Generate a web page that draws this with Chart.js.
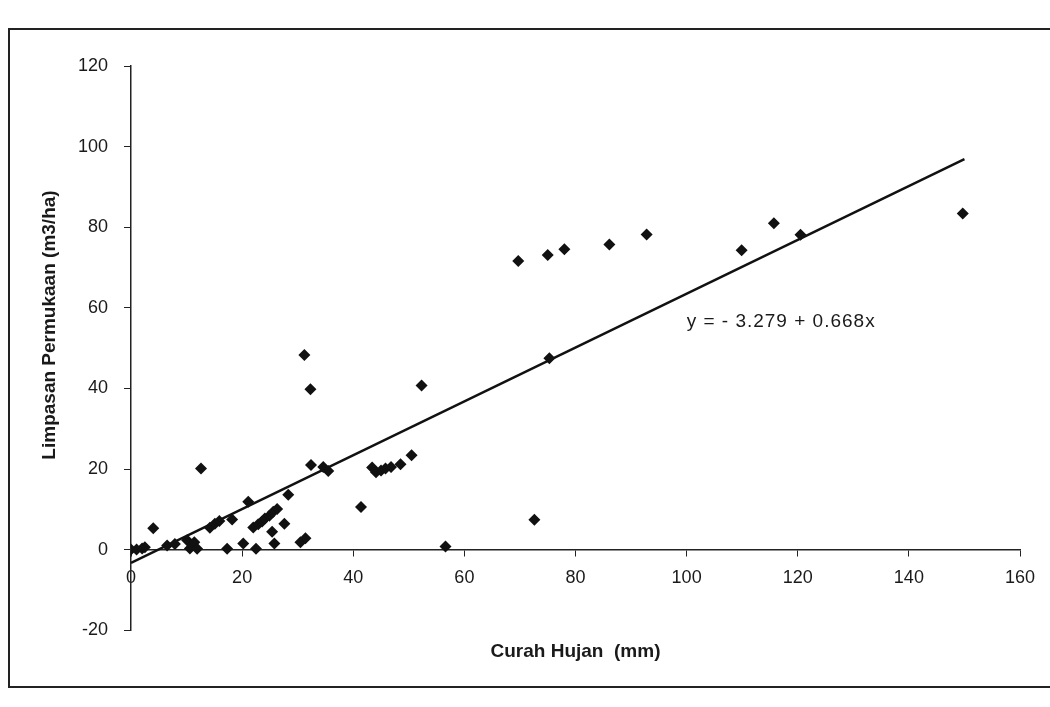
<!DOCTYPE html>
<html lang="id">
<head>
  <meta charset="UTF-8" />
  <title>Curah Hujan vs Limpasan Permukaan</title>
  <script src="https://cdn.jsdelivr.net/npm/chart.js"></script>
  <style>
    body {
      margin: 0;
      background: #ffffff;
      width: 1050px;
      height: 707px;
      overflow: hidden;
      position: relative;
      font-family: 'Liberation Sans', Arial, sans-serif;
    }
    .frame {
      position: absolute;
      left: 8px;
      top: 28px;
      width: 1100px;
      height: 660px;
      border: 2px solid #222;
      box-sizing: border-box;
    }
    #chart {
      position: absolute;
      left: 0;
      top: 0;
    }
  </style>
</head>
<body>
  <div class="frame"></div>
  <canvas id="chart" width="1050" height="707"></canvas>

  <script>
    // Curah hujan (mm) dan limpasan permukaan (m3/ha)
    const curahHujan = [
      0, 1, 2, 2.5, 4, 6.5, 7.9, 10.1, 10.6, 11.4, 11.9, 12.6, 14.2, 15.1, 15.9,
      17.3, 18.2, 20.2, 21.1, 22, 22.5, 22.9, 23.6, 24.1, 24.9, 25.6, 26.3, 25.4,
      25.8, 27.6, 28.3, 30.5, 31.4, 31.2, 32.3, 32.4, 34.6, 35.5, 41.4, 43.4, 44.1,
      45, 45.8, 46.8, 48.5, 50.5, 52.3, 56.6, 69.7, 72.6, 75, 78, 86.1, 92.8, 75.3,
      109.9, 115.7, 120.5, 149.7
    ];
    const limpasan = [
      0, 0, 0.3, 0.6, 5.3, 1, 1.4, 2.3, 0.3, 1.8, 0.2, 20.1, 5.4, 6.4, 7.1,
      0.2, 7.5, 1.5, 11.9, 5.5, 0.2, 6.3, 7, 7.7, 8.4, 9.4, 10.1, 4.4,
      1.5, 6.4, 13.6, 1.8, 2.8, 48.3, 39.8, 21, 20.5, 19.5, 10.6, 20.4, 19.2,
      19.6, 20.1, 20.5, 21.2, 23.4, 40.7, 0.8, 71.6, 7.4, 73.1, 74.5, 75.7, 78.2, 47.5,
      74.3, 81, 78.1, 83.4
    ];

    // ujung garis regresi y = -3.279 + 0.668x
    const garisX = [0, 150];
    const garisY = [-3.3, 96.9];
    const persamaan = 'y = - 3.279 + 0.668x';

    const xTicks = [0, 20, 40, 60, 80, 100, 120, 140, 160];
    const yTicks = [-20, 0, 20, 40, 60, 80, 100, 120];

    const titikData = curahHujan.map((x, i) => ({ x: x, y: limpasan[i] }));
    const garisData = garisX.map((x, i) => ({ x: x, y: garisY[i] }));

    // teks persamaan + judul sumbu Y
    const teksPlugin = {
      id: 'teks',
      afterDraw(chart) {
        const c = chart.ctx;
        const xs = chart.scales.x, ys = chart.scales.y;
        c.save();
        c.fillStyle = '#1a1a1a';
        c.font = '19px "Liberation Sans", Arial, sans-serif';
        c.letterSpacing = '1px';
        c.textAlign = 'left';
        c.textBaseline = 'middle';
        c.fillText(persamaan, xs.getPixelForValue(100), ys.getPixelForValue(56.5));
        c.letterSpacing = '0px';

        c.translate(50, 325);
        c.rotate(-Math.PI / 2);
        c.textAlign = 'center';
        c.font = 'bold 19px "Liberation Sans", Arial, sans-serif';
        c.fillText('Limpasan Permukaan (m3/ha)', 0, 0);
        c.restore();
      }
    };

    const ctx = document.getElementById('chart').getContext('2d');
    new Chart(ctx, {
      type: 'scatter',
      data: {
        datasets: [
          {
            label: 'Data',
            data: titikData,
            pointStyle: 'rectRot',
            pointRadius: 6,
            pointBackgroundColor: '#111',
            pointBorderColor: '#111',
            borderWidth: 0
          },
          {
            label: 'Regresi',
            type: 'line',
            data: garisData,
            borderColor: '#111',
            borderWidth: 2.5,
            pointRadius: 0,
            fill: false
          }
        ]
      },
      options: {
        responsive: false,
        animation: false,
        layout: { padding: { left: 0, right: 30, top: 66, bottom: 44 } },
        scales: {
          x: {
            type: 'linear',
            position: { y: 0 },
            min: xTicks[0],
            max: xTicks[xTicks.length - 1],
            afterBuildTicks: s => { s.ticks = xTicks.map(v => ({ value: v })); },
            grid: { drawOnChartArea: false, drawTicks: true, tickLength: 6, color: '#222' },
            border: { display: true, color: '#222', width: 1.5 },
            ticks: {
              color: '#1a1a1a',
              padding: 12,
              maxRotation: 0,
              font: { family: '"Liberation Sans", Arial, sans-serif', size: 18 }
            }
          },
          y: {
            type: 'linear',
            min: yTicks[0],
            max: yTicks[yTicks.length - 1],
            afterBuildTicks: s => { s.ticks = yTicks.map(v => ({ value: v })); },
            afterFit: s => { s.width = 131; },
            grid: { drawOnChartArea: false, drawTicks: true, tickLength: 7, color: '#222' },
            border: { display: true, color: '#222', width: 1.5 },
            ticks: {
              color: '#1a1a1a',
              padding: 16,
              font: { family: '"Liberation Sans", Arial, sans-serif', size: 18 }
            }
          }
        },
        plugins: {
          legend: { display: false },
          tooltip: { enabled: false },
          title: {
            display: true,
            text: 'Curah Hujan  (mm)',
            position: 'bottom',
            fullSize: false,
            color: '#1a1a1a',
            padding: { top: 10, bottom: 0 },
            font: { family: '"Liberation Sans", Arial, sans-serif', size: 19, weight: 'bold' }
          }
        }
      },
      plugins: [teksPlugin]
    });
  </script>
</body>
</html>
